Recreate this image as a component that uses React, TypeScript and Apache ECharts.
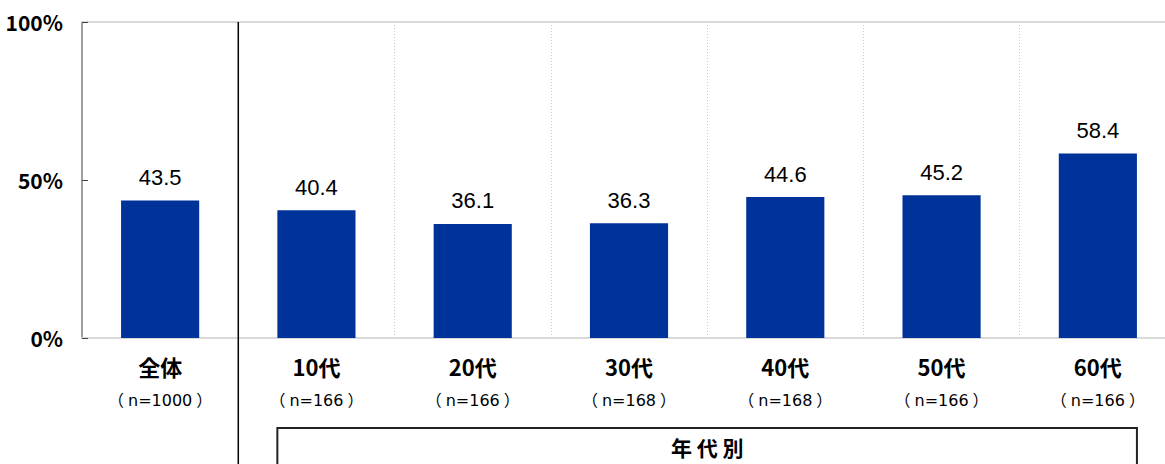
import React, { useEffect, useRef } from "react";
import * as echarts from "echarts";

const categories = ["全体", "10代", "20代", "30代", "40代", "50代", "60代"];
const sampleSizes = ["1000", "166", "166", "168", "168", "166", "166"];
const values = [43.5, 40.4, 36.1, 36.3, 44.6, 45.2, 58.4];
const yTicks = [0, 50, 100];
const groupTitle = "年 代 別";

const FONT = "'Noto Sans CJK JP', 'Liberation Sans', sans-serif";
const NUM_FONT = "'Liberation Sans', Arial, sans-serif";
const N_FONT = "'DejaVu Sans', 'Noto Sans CJK JP', sans-serif";

export default function App() {
  const ref = useRef<HTMLDivElement>(null);
  useEffect(() => {
    if (!ref.current) return;
    const chart = echarts.init(ref.current, undefined, { renderer: "svg" });
    const gridTop = 22;
    const gridBottom = 126;
    const nStyle = { fontFamily: N_FONT, fontSize: 16, color: "#000", lineHeight: 38 };
    chart.setOption({
      animation: false,
      backgroundColor: "#ffffff",
      grid: { left: 82, right: 0, top: gridTop, bottom: gridBottom, containLabel: false },
      xAxis: [
        {
          type: "category",
          data: categories,
          position: "bottom",
          axisLine: { show: true, lineStyle: { color: "#d9d9d9", width: 2 } },
          axisTick: { show: false },
          splitLine: {
            show: true,
            interval: (i: number) => i >= 1,
            lineStyle: { color: "#c8c8c8", type: [1, 2], width: 1 },
          },
          axisLabel: {
            interval: 0,
            margin: 13,
            formatter: (v: string, i: number) =>
              `{a|${v}}\n{p|（}{b|n=${sampleSizes[i]}}{p|）}`,
            rich: {
              a: { fontFamily: FONT, fontWeight: "bold", fontSize: 22, color: "#000", lineHeight: 30 },
              b: nStyle,
              p: { ...nStyle, padding: [0, 4] },
            },
          },
        },
        {
          type: "category",
          data: categories,
          position: "top",
          axisLine: { show: true, lineStyle: { color: "#d9d9d9", width: 2 } },
          axisTick: { show: false },
          axisLabel: { show: false },
          splitLine: { show: false },
        },
      ],
      yAxis: {
        type: "value",
        min: 0,
        max: 100,
        interval: 50,
        axisLine: { show: true, lineStyle: { color: "#7f7f7f", width: 1.5 } },
        axisTick: { show: true, inside: true, length: 6, lineStyle: { color: "#444" } },
        splitLine: { show: false },
        axisLabel: {
          margin: 19,
          fontFamily: FONT,
          fontSize: 21,
          fontWeight: "bold",
          color: "#000",
          formatter: (v: number) => (yTicks.includes(v) ? `${v}%` : ""),
        },
      },
      series: [
        {
          type: "bar",
          data: values,
          barWidth: "50%",
          itemStyle: { color: "#003399" },
          label: {
            show: true,
            position: "top",
            distance: 12,
            fontFamily: NUM_FONT,
            fontSize: 22,
            color: "#000",
            formatter: (p: any) => Number(p.value).toFixed(1),
          },
        },
      ],
    });

    const x0 = chart.convertToPixel({ xAxisIndex: 0 }, 0) as number;
    const x1 = chart.convertToPixel({ xAxisIndex: 0 }, 1) as number;
    const xLast = chart.convertToPixel({ xAxisIndex: 0 }, categories.length - 1) as number;
    const step = x1 - x0;
    const half = step * 0.25;
    const sepX = (x0 + x1) / 2;
    const boxLeft = x1 - half;
    const boxRight = xLast + half;
    const H = 464;
    chart.setOption({
      graphic: [
        {
          type: "line",
          shape: { x1: sepX, y1: gridTop, x2: sepX, y2: H },
          style: { stroke: "#000", lineWidth: 1.5 },
          z: 100,
        },
        {
          type: "rect",
          shape: { x: boxLeft, y: 428, width: boxRight - boxLeft, height: 60 },
          style: { fill: "#fff", stroke: "#222", lineWidth: 2 },
          z: 100,
        },
        {
          type: "text",
          x: (boxLeft + boxRight) / 2,
          y: 447,
          style: {
            text: groupTitle,
            fontFamily: FONT,
            fontWeight: "bold",
            fontSize: 21,
            fill: "#000",
            align: "center",
            verticalAlign: "middle",
          },
          z: 101,
        },
      ],
    });
    return () => chart.dispose();
  }, []);
  return (
    <div style={{ position: "fixed", left: 0, top: 0, width: 1165, height: 464, overflow: "hidden" }}>
      <div ref={ref} style={{ width: 1176, height: 464 }} />
    </div>
  );
}
